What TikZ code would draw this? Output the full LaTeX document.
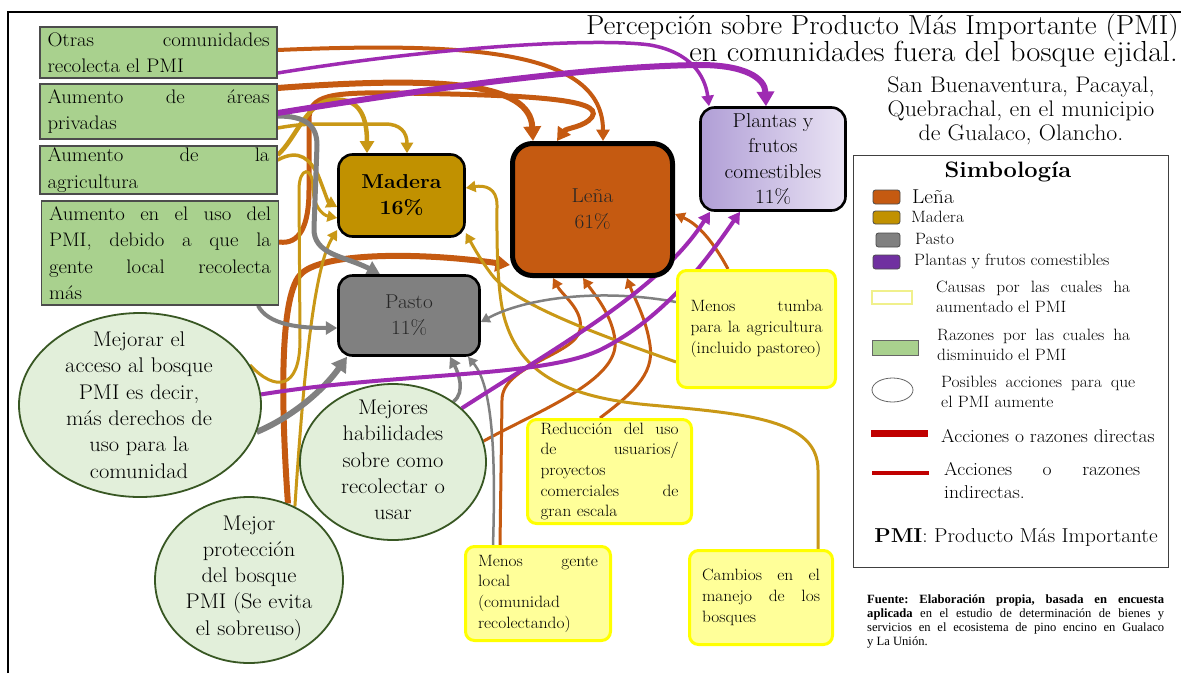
\documentclass[tikz,border=0pt]{standalone}
\usepackage{fontspec}
\setmainfont{Latin Modern Roman}[FakeStretch=1.06]
\newfontfamily\notefont{Liberation Serif}
\usetikzlibrary{arrows.meta,shapes.geometric}
\pgfdeclarelayer{back}
\pgfdeclarelayer{conn}
\pgfsetlayers{back,conn,main}
\frenchspacing

\definecolor{cLena}{RGB}{197,90,17}
\definecolor{cMad}{RGB}{193,145,0}
\definecolor{cGold}{RGB}{201,152,22}
\definecolor{cPasto}{RGB}{128,128,128}
\definecolor{cPur}{RGB}{158,42,178}
\definecolor{cPurSw}{RGB}{112,48,160}
\definecolor{cPlA}{RGB}{176,158,214}
\definecolor{cPlB}{RGB}{234,228,244}
\definecolor{cGreen}{RGB}{169,209,142}
\definecolor{cEll}{RGB}{226,239,218}
\definecolor{cEllB}{RGB}{56,87,35}
\definecolor{cYel}{RGB}{255,255,153}
\definecolor{cYelB}{RGB}{255,255,0}
\definecolor{cYelPale}{RGB}{240,240,140}
\definecolor{cRed}{RGB}{192,0,0}

\begin{document}
\begin{tikzpicture}[x=1pt,y=-1pt,
  gbox/.style={draw=black!70, fill=cGreen, line width=1.2pt, text width=222pt,
    inner xsep=7.5pt, inner ysep=0pt, align=justify,
    font=\fontsize{19.6}{26.5}\selectfont},
  prod/.style={draw=black, rounded corners=14pt, line width=2.6pt, align=center,
    font=\fontsize{20.1}{26}\selectfont},
  act/.style={ellipse, draw=cEllB, fill=cEll, line width=1.8pt, inner sep=0pt},
  acttext/.style={align=center, inner sep=0pt, font=\fontsize{21.2}{26.3}\selectfont},
  ybox/.style={draw=cYelB, fill=cYel, line width=3pt, rounded corners=9pt,
    align=justify, inner xsep=0pt, inner ysep=0pt,
    font=\fontsize{16.4}{20.7}\selectfont},
  legtext/.style={anchor=west, inner sep=0pt, align=justify},
  con/.style={line width=#1, -{Triangle[length=5pt 1.6,width=5pt 2]}},
  swatch/.style={draw=black!70, line width=0.8pt, rounded corners=2.5pt}
]
\useasboundingbox (0,0) rectangle (1181,673);
\begin{pgfonlayer}{back}
\fill[white] (0,0) rectangle (1181,673);
\end{pgfonlayer}
\draw[line width=2pt] (8,673) -- (8,12) -- (1181,12);

% ---- title block
\node[anchor=east, inner sep=0pt, font=\fontsize{27.5}{30}\selectfont] (t1) at (1179,28)
  {Percepción sobre Producto Más Importante (PMI)};
\node[anchor=east, inner sep=0pt, font=\fontsize{29}{30}\selectfont] (t2) at (1178,54)
  {en comunidades fuera del bosque ejidal.};
\node[align=center, inner sep=0pt, font=\fontsize{22.5}{24}\selectfont] (sub) at (1021,111)
  {San Buenaventura, Pacayal,\\Quebrachal, en el municipio\\de Gualaco, Olancho.};

% ---- reasons (green boxes)
\node[gbox, minimum height=51pt] (g1) at (158.5,52.5)
  {Otras comunidades\linebreak recolecta el PMI};
\node[gbox, minimum height=55pt] (g2) at (158.5,111.5)
  {Aumento de áreas\linebreak privadas};
\node[gbox, minimum height=48pt] (g3) at (158.5,170)
  {Aumento de la\linebreak agricultura};
\node[gbox, minimum height=104pt] (g4) at (160,253)
  {Aumento en el uso del\linebreak PMI, debido a que la\linebreak gente local recolecta\linebreak más};

% ---- products
\node[prod, fill=cMad, minimum width=126pt, minimum height=82pt] (mad) at (401.5,195.5)
  {\textbf{Madera}\\\textbf{16\%}};
\node[prod, fill=cLena, line width=5pt, rounded corners=20pt, minimum width=160pt,
  minimum height=132pt, text=black!85] (lena) at (592.5,209.5) {Leña\\61\%};
\node[prod, fill=cPasto, minimum width=141pt, minimum height=80pt, text=black!85] (pas) at (409,315.5)
  {Pasto\\11\%};
\node[prod, left color=cPlA, right color=cPlB, minimum width=145pt, minimum height=103pt,
  font=\fontsize{20.1}{25.3}\selectfont] (pl) at (773,159)
  {Plantas y\\frutos\\comestibles\\11\%};

% ---- possible actions (ellipses)
\node[act, minimum width=242pt, minimum height=184pt] (e1) at (140,405) {};
\node[acttext] (e1t) at (139,405)
  {Mejorar el\\acceso al bosque\\PMI es decir,\\más derechos de\\uso para la\\comunidad};
\node[act, minimum width=186pt, minimum height=156pt] (e2) at (393,462) {};
\node[acttext] (e2t) at (393,460)
  {Mejores\\habilidades\\sobre como\\recolectar o\\usar};
\node[act, minimum width=188pt, minimum height=166pt] (e3) at (249,580) {};
\node[acttext] (e3t) at (249,578)
  {Mejor\\protección\\del bosque\\PMI (Se evita\\el sobreuso)};

% ---- causes (yellow boxes)
\node[ybox, minimum width=158pt, minimum height=117pt, text width=132pt] (y1) at (756.5,329)
  {Menos tumba\linebreak para la agricultura\linebreak (incluido pastoreo)};
\node[ybox, minimum width=164pt, minimum height=104pt, text width=138pt] (y2) at (609.5,471.5)
  {Reducción del uso\linebreak de usuarios/\linebreak proyectos\\ comerciales de\linebreak gran escala};
\node[ybox, minimum width=145pt, minimum height=94pt, text width=120pt] (y3) at (538,593.5)
  {Menos gente\linebreak local\\ (comunidad\\ recolectando)};
\node[ybox, minimum width=143pt, minimum height=94pt, text width=118pt] (y4) at (761,597.5)
  {Cambios en el\linebreak manejo de los\linebreak bosques};

% ---- legend
\draw[line width=1pt, black!75] (853,155) rectangle (1168,567);
\node[inner sep=0pt, font=\bfseries\fontsize{22.3}{24}\selectfont] (lhead) at (1008,172) {Simbología};
\draw[swatch, fill=cLena] (873,190) rectangle (900,204);
\node[legtext, font=\fontsize{20.1}{22}\selectfont] (l1) at (912,197) {Leña};
\draw[swatch, fill=cMad] (873,211) rectangle (900,224);
\node[legtext, font=\fontsize{16.4}{20}\selectfont] (l2) at (911,217) {Madera};
\draw[swatch, fill=cPasto] (876,233) rectangle (900,247);
\node[legtext, font=\fontsize{16.4}{20}\selectfont] (l3) at (915,239) {Pasto};
\draw[swatch, fill=cPurSw] (873,255) rectangle (900,269);
\node[legtext, font=\fontsize{16.4}{20}\selectfont] (l4) at (914,261) {Plantas y frutos comestibles};
\draw[draw=cYelPale, line width=1.5pt] (872,291) rectangle (912,304);
\node[legtext, text width=194pt, font=\fontsize{16.4}{20.5}\selectfont] (l5) at (936,297)
  {Causas por las cuales ha\linebreak aumentado el PMI};
\draw[draw=black!60, fill=cGreen, line width=0.8pt] (872,340) rectangle (918,355);
\node[legtext, text width=193pt, font=\fontsize{16.4}{20.5}\selectfont] (l6) at (937,345)
  {Razones por las cuales ha\linebreak disminuido el PMI};
\draw[black!60, line width=0.8pt] (892.5,390) ellipse (20.5 and 12);
\node[legtext, text width=194pt, font=\fontsize{16.4}{20.5}\selectfont] (l7) at (941,392)
  {Posibles acciones para que\linebreak el PMI aumente};
\draw[cRed, line width=7pt] (871,433) -- (928,433);
\node[legtext, font=\fontsize{18.5}{22}\selectfont] (l8) at (941,436) {Acciones o razones directas};
\draw[cRed, line width=4.5pt] (872,473) -- (929,473);
\node[legtext, text width=196pt, font=\fontsize{18.5}{23}\selectfont] (l9) at (944,481)
  {Acciones o razones\linebreak indirectas.};
\node[inner sep=0pt, font=\fontsize{20.1}{22}\selectfont] (l10) at (1016,537)
  {\textbf{PMI}: Producto Más Importante};

% ---- source note
\node[anchor=north west, text width=297pt, align=justify, inner sep=0pt,
  font=\notefont\fontsize{12.6}{14}\selectfont\frenchspacing] (src) at (867,595)
  {\textbf{Fuente: Elaboración propia, basada en encuesta\linebreak aplicada} en el estudio de determinación de bienes y\linebreak servicios en el ecosistema de pino encino en Gualaco\linebreak y La Unión.};

% ---- connectors
\begin{pgfonlayer}{conn}
% leña (orange)
\draw[con=4pt, cLena] ([yshift=2.5pt]g1.east) .. controls (470,42) and (603,50) .. ([xshift=10.5pt]lena.north);
\draw[con=6pt, cLena] ([yshift=23.5pt]g2.east) .. controls (440,76) and (530,82) .. ([xshift=-59.5pt]lena.north);
\draw[con=5pt, cLena] ([yshift=11pt]g4.east) .. controls (300,245) and (309,225) .. (309,190)
  -- (309,120) .. controls (309,95) and (330,92) .. (400,93)
  .. controls (520,95) and (605,98) .. (592,117)
  .. controls (585,127) and (566,128) .. ([xshift=-35.5pt]lena.north);
\draw[con=6pt, cLena] (e3.63) .. controls (282,420) and (278,300) .. (300,275)
  .. controls (320,252) and (420,252) .. ([yshift=-55.5pt]lena.west);
\draw[con=3pt, cLena] ([xshift=-38pt]y3.north) -- (502,400) .. controls (502,365) and (575,355) .. (580,330)
  .. controls (584,310) and (562,295) .. ([xshift=-39.5pt]lena.south);
\draw[con=3pt, cLena] (e2.13) .. controls (540,410) and (620,380) .. (615,340)
  .. controls (612,315) and (595,295) .. ([xshift=-9.5pt]lena.south);
\draw[con=3pt, cLena] ([xshift=-9.5pt]y2.north) .. controls (630,395) and (655,375) .. (650,345)
  .. controls (646,318) and (635,300) .. ([xshift=34.5pt]lena.south);
\draw[con=3pt, cLena] ([xshift=-28.5pt]y1.north) .. controls (715,245) and (700,225) .. ([yshift=-4.5pt]lena.east);
% madera (gold)
\draw[con=4.5pt, cGold] ([yshift=15pt]g3.east) .. controls (295,140) and (305,105) .. (330,100)
  .. controls (355,97) and (367,110) .. ([xshift=-34.5pt]mad.north);
\draw[con=3.5pt, cGold] ([yshift=-16.5pt]g2.east) .. controls (300,124) and (310,124) .. (330,124)
  -- (385,124) .. controls (400,124) and (407,132) .. ([xshift=5.5pt]mad.north);
\draw[con=3.5pt, cGold] ([yshift=10pt]g3.east) .. controls (300,148) and (310,160) .. (318,175)
  .. controls (324,190) and (328,202) .. ([yshift=-11.5pt]mad.west);
\draw[con=3pt, cGold] (e3.58) .. controls (302,400) and (312,270) .. ([yshift=-34.5pt]mad.west);
\draw[con=3pt, cGold] (e1.20) .. controls (275,392) and (300,390) .. (300,340) -- (299,190)
  .. controls (299,166) and (313,166) .. (313,188)
  .. controls (313,205) and (322,215) .. ([yshift=-22.5pt]mad.west);
\draw[con=3pt, cGold] ([yshift=-33pt]y1.west) .. controls (600,335) and (515,305) .. (492,275)
  .. controls (482,262) and (474,248) .. ([yshift=-37.5pt]mad.east);
\draw[con=3pt, cGold] ([xshift=57pt]y4.north) -- (818,470) .. controls (818,420) and (750,414) .. (650,405)
  .. controls (560,397) and (520,370) .. (505,320)
  .. controls (496,290) and (497,230) .. (497,205)
  .. controls (497,188) and (485,185) .. ([yshift=7.5pt]mad.east);
% pasto (gray)
\draw[con=5pt, cPasto] ([yshift=-4.5pt]g2.east) .. controls (305,116) and (317,125) .. (317,145)
  -- (314,228) .. controls (313,255) and (345,256) .. ([xshift=-29pt]pas.north);
\draw[con=4pt, cPasto] ([xshift=98pt]g4.south) .. controls (268,325) and (300,328) .. ([yshift=-12.5pt]pas.west);
\draw[con=6pt, cPasto] (e1.-13) .. controls (290,418) and (322,392) .. ([xshift=-62pt]pas.south);
\draw[con=3.5pt, cPasto] (e2.45) .. controls (466,392) and (458,372) .. ([xshift=41pt]pas.south);
\draw[con=2.5pt, cPasto] ([xshift=-45pt]y3.north) .. controls (496,450) and (492,385) .. ([xshift=59pt]pas.south);
\draw[con=2.5pt, cPasto] ([yshift=27pt]y1.west) .. controls (600,288) and (525,298) .. ([yshift=-6.5pt]pas.east);
% plantas y frutos (purple)
\draw[con=3.5pt, cPur] ([yshift=-20.5pt]g1.east) .. controls (450,45) and (600,38) .. (650,45)
  .. controls (690,52) and (705,75) .. ([xshift=-64pt]pl.north);
\draw[con=6pt, cPur] ([yshift=-1.5pt]g2.east) .. controls (450,85) and (600,66) .. (700,65)
  .. controls (745,65) and (765,78) .. ([xshift=-7pt]pl.north);
\draw[con=4pt, cPur] (e1.5) .. controls (400,372) and (540,378) .. (600,350)
  .. controls (660,320) and (700,270) .. ([xshift=-33pt]pl.south);
\draw[con=4pt, cPur] (e2.38) .. controls (560,345) and (660,290) .. ([xshift=-63pt]pl.south);
\end{pgfonlayer}
\end{tikzpicture}
\end{document}
